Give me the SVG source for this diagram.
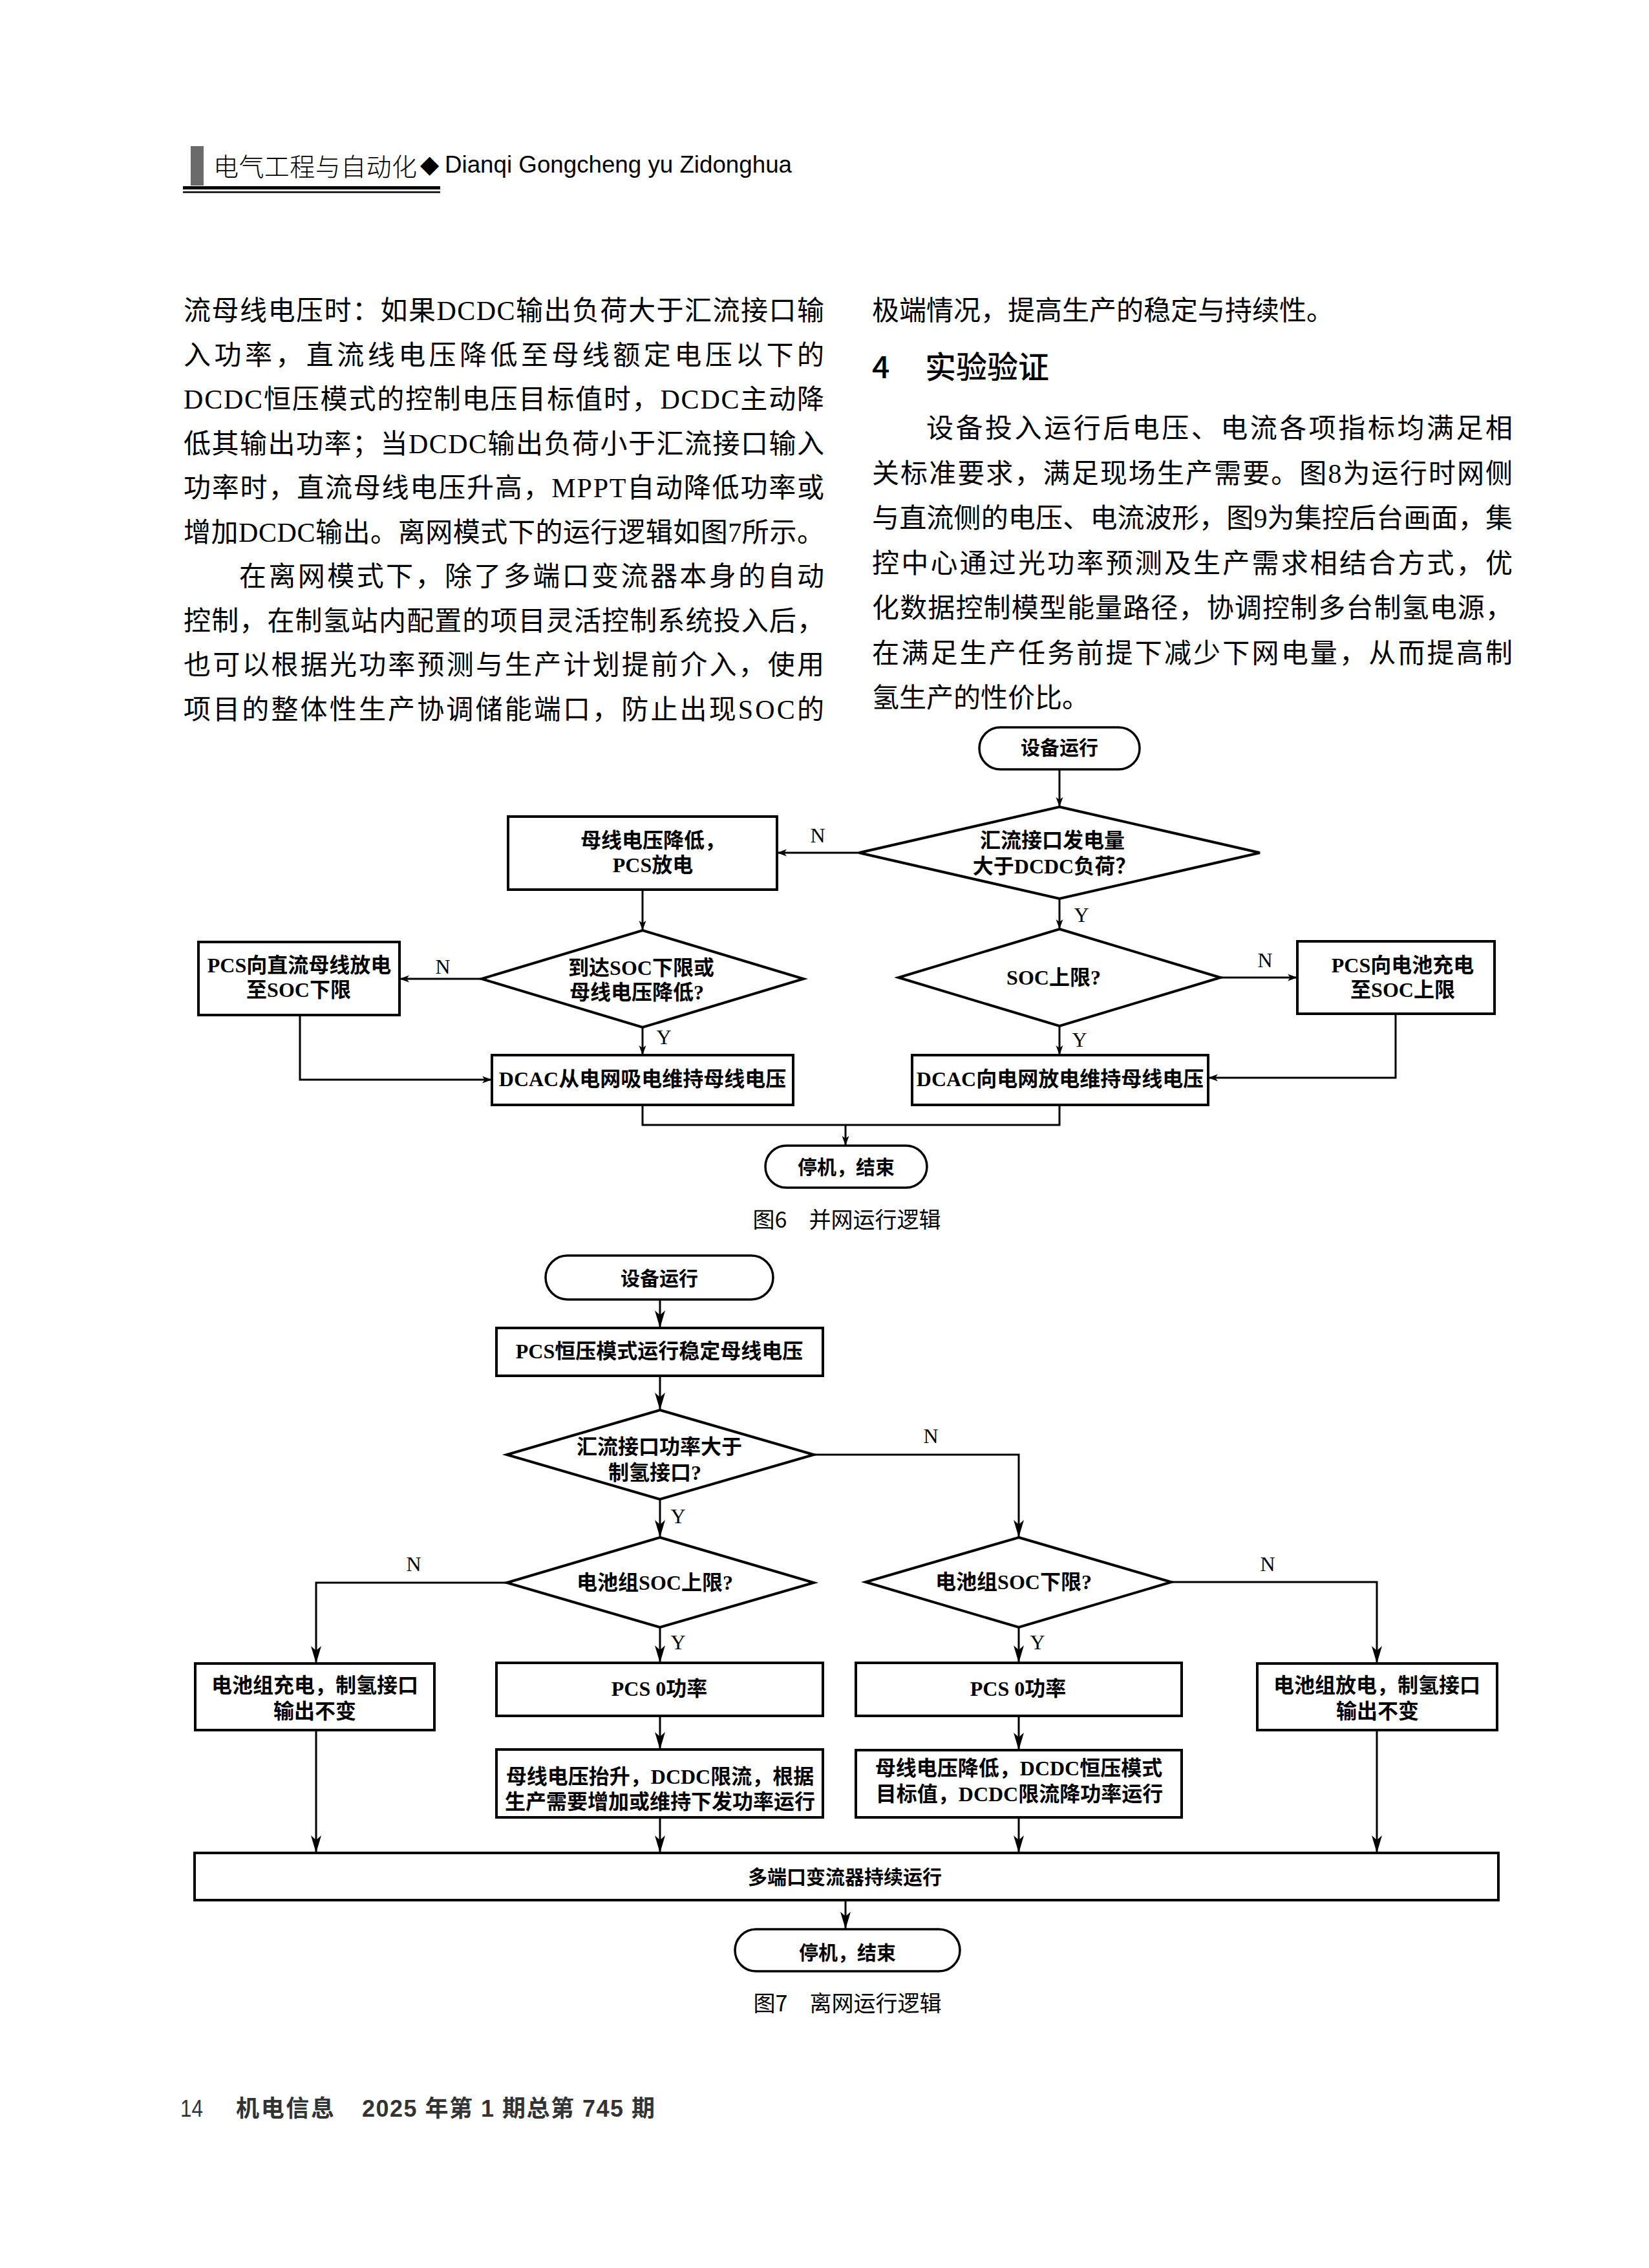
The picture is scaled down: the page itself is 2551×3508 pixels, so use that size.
<svg xmlns="http://www.w3.org/2000/svg" width="2551" height="3508" viewBox="0 0 2551 3508">
<defs>
<style>
.body{font-family:"Liberation Serif","Noto Sans CJK SC",serif;font-size:42px;fill:#000}
.hd{font-family:"Noto Sans CJK SC","Liberation Sans",sans-serif;font-size:48px;font-weight:500;fill:#000}
.ft{font-family:"Liberation Serif","Noto Sans CJK SC",serif;font-size:32px;font-weight:bold;fill:#000;text-anchor:middle}
.fs{font-family:"Noto Sans CJK SC","Liberation Sans",sans-serif;font-size:30px;font-weight:bold;fill:#000;text-anchor:middle}
.lb{font-family:"Liberation Serif",serif;font-size:32px;fill:#000;text-anchor:middle}
.cap{font-family:"Noto Sans CJK SC","Liberation Sans",sans-serif;font-size:34px;fill:#000;text-anchor:middle}
.shape{fill:#fff;stroke:#000;stroke-width:4}
.term{fill:#fff;stroke:#000;stroke-width:3.5}
.c6{fill:none;stroke:#000;stroke-width:3;marker-end:url(#a6)}
.c7{fill:none;stroke:#000;stroke-width:3;marker-end:url(#a7)}
.ln{fill:none;stroke:#000;stroke-width:3}
.foot{font-family:"Liberation Sans","Noto Sans CJK SC",sans-serif;font-size:36px;fill:#333}
</style>
<marker id="a6" markerUnits="userSpaceOnUse" markerWidth="16" markerHeight="12" refX="15" refY="6" orient="auto"><path d="M0,0.5 L15,6 L0,11.5 L4,6 z" fill="#000"/></marker>
<marker id="a7" markerUnits="userSpaceOnUse" markerWidth="28" markerHeight="18" refX="27" refY="9" orient="auto"><path d="M0,1 L27,9 L0,17 L7,9 z" fill="#000"/></marker>
</defs>
<rect width="2551" height="3508" fill="#fff"/>

<g id="header">
<rect x="295" y="226" width="20" height="61" fill="#6b6b6b"/>
<text x="330" y="272" font-family="Noto Sans CJK SC, sans-serif" font-size="39" font-weight="300" textLength="315">电气工程与自动化</text>
<text x="650" y="267" font-family="DejaVu Sans, sans-serif" font-size="38">◆</text>
<text x="688" y="267" font-family="Liberation Sans, sans-serif" font-size="36" textLength="537" lengthAdjust="spacingAndGlyphs">Dianqi Gongcheng yu Zidonghua</text>
<rect x="283" y="288" width="398" height="5" fill="#000"/>
<rect x="283" y="296" width="398" height="2.5" fill="#000"/>
</g>

<g id="body-left" class="body">
<text x="284" y="495" textLength="991" lengthAdjust="spacing">流母线电压时：如果DCDC输出负荷大于汇流接口输</text>
<text x="284" y="563.5" textLength="991" lengthAdjust="spacing">入功率，直流线电压降低至母线额定电压以下的</text>
<text x="284" y="632" textLength="991" lengthAdjust="spacing">DCDC恒压模式的控制电压目标值时，DCDC主动降</text>
<text x="284" y="700.5" textLength="991" lengthAdjust="spacing">低其输出功率；当DCDC输出负荷小于汇流接口输入</text>
<text x="284" y="769" textLength="991" lengthAdjust="spacing">功率时，直流母线电压升高，MPPT自动降低功率或</text>
<text x="284" y="837.5" textLength="991" lengthAdjust="spacing">增加DCDC输出。离网模式下的运行逻辑如图7所示。</text>
<text x="370" y="906" textLength="905" lengthAdjust="spacing">在离网模式下，除了多端口变流器本身的自动</text>
<text x="284" y="974.5" textLength="991" lengthAdjust="spacing">控制，在制氢站内配置的项目灵活控制系统投入后，</text>
<text x="284" y="1043" textLength="991" lengthAdjust="spacing">也可以根据光功率预测与生产计划提前介入，使用</text>
<text x="284" y="1111.5" textLength="991" lengthAdjust="spacing">项目的整体性生产协调储能端口，防止出现SOC的</text>
</g>

<g id="body-right">
<text class="body" x="1349" y="495">极端情况，提高生产的稳定与持续性。</text>
<text class="hd" x="1349" y="585">4</text>
<text class="hd" x="1431" y="585">实验验证</text>
<text class="body" x="1433" y="677" textLength="907" lengthAdjust="spacing">设备投入运行后电压、电流各项指标均满足相</text>
<text class="body" x="1349" y="746.5" textLength="991" lengthAdjust="spacing">关标准要求，满足现场生产需要。图8为运行时网侧</text>
<text class="body" x="1349" y="816" textLength="991" lengthAdjust="spacing">与直流侧的电压、电流波形，图9为集控后台画面，集</text>
<text class="body" x="1349" y="885.5" textLength="991" lengthAdjust="spacing">控中心通过光功率预测及生产需求相结合方式，优</text>
<text class="body" x="1349" y="955" textLength="991" lengthAdjust="spacing">化数据控制模型能量路径，协调控制多台制氢电源，</text>
<text class="body" x="1349" y="1024.5" textLength="991" lengthAdjust="spacing">在满足生产任务前提下减少下网电量，从而提高制</text>
<text class="body" x="1349" y="1094">氢生产的性价比。</text>
</g>

<g id="fig6-connectors">
<path class="c6" d="M1639,1190 V1248"/>
<path class="c6" d="M1329,1319 H1202"/>
<path class="c6" d="M994,1376 V1439"/>
<path class="c6" d="M745,1514 H618"/>
<path class="c6" d="M994,1589 V1632"/>
<path class="c6" d="M464,1570 V1670 H761"/>
<path class="c6" d="M1639,1390 V1437"/>
<path class="c6" d="M1888,1512 H2007"/>
<path class="c6" d="M1639,1587 V1632"/>
<path class="c6" d="M2159,1568 V1667 H1869"/>
<path class="ln" d="M994,1709 V1740 H1639 V1709"/>
<path class="c6" d="M1308,1740 V1772"/>
<text class="lb" x="1265" y="1303">N</text>
<text class="lb" x="685" y="1506">N</text>
<text class="lb" x="1027" y="1615">Y</text>
<text class="lb" x="1673" y="1426">Y</text>
<text class="lb" x="1957" y="1496">N</text>
<text class="lb" x="1670" y="1619">Y</text>
</g>

<g id="fig6-start"><rect class="term" x="1515" y="1125" width="248" height="65" rx="32.5"/><text class="fs" x="1639" y="1167">设备运行</text></g>
<g id="fig6-d1"><polygon class="shape" points="1639,1248 1949,1319 1639,1390 1329,1319"/><text class="ft" x="1628" y="1311">汇流接口发电量</text><text class="ft" x="1631" y="1351">大于DCDC负荷？</text></g>
<g id="fig6-a"><rect class="shape" x="786" y="1263" width="416" height="113"/><text class="ft" x="1010" y="1311">母线电压降低，</text><text class="ft" x="1010" y="1349">PCS放电</text></g>
<g id="fig6-d2"><polygon class="shape" points="994,1439 1243,1514 994,1589 745,1514"/><text class="ft" x="992" y="1508">到达SOC下限或</text><text class="ft" x="985" y="1546">母线电压降低?</text></g>
<g id="fig6-b"><rect class="shape" x="307" y="1457" width="311" height="113"/><text class="ft" x="463" y="1504">PCS向直流母线放电</text><text class="ft" x="462" y="1542">至SOC下限</text></g>
<g id="fig6-c"><rect class="shape" x="761" y="1632" width="466" height="77"/><text class="ft" x="994" y="1680">DCAC从电网吸电维持母线电压</text></g>
<g id="fig6-d3"><polygon class="shape" points="1639,1437 1888,1512 1639,1587 1390,1512"/><text class="ft" x="1630" y="1523">SOC上限?</text></g>
<g id="fig6-d"><rect class="shape" x="2007" y="1456" width="305" height="112"/><text class="ft" x="2170" y="1504">PCS向电池充电</text><text class="ft" x="2170" y="1542">至SOC上限</text></g>
<g id="fig6-e"><rect class="shape" x="1411" y="1632" width="458" height="77"/><text class="ft" x="1640" y="1680">DCAC向电网放电维持母线电压</text></g>
<g id="fig6-end"><rect class="term" x="1184" y="1772" width="250" height="65" rx="32.5"/><text class="fs" x="1309" y="1816">停机，结束</text></g>
<text id="fig6-caption" class="cap" x="1310" y="1899">图6　并网运行逻辑</text>

<g id="fig7-connectors">
<path class="c7" d="M1021,2010 V2054"/>
<path class="c7" d="M1021,2128 V2181"/>
<path class="c7" d="M1259,2250 H1576 V2378"/>
<path class="c7" d="M1021,2319 V2378"/>
<path class="c7" d="M784,2448 H489 V2573"/>
<path class="c7" d="M1021,2517 V2572"/>
<path class="c7" d="M1021,2654 V2706"/>
<path class="c7" d="M1021,2811 V2866"/>
<path class="c7" d="M489,2676 V2866"/>
<path class="c7" d="M1812,2447 H2130 V2573"/>
<path class="c7" d="M1576,2517 V2572"/>
<path class="c7" d="M1576,2654 V2707"/>
<path class="c7" d="M1576,2811 V2866"/>
<path class="c7" d="M2130,2676 V2866"/>
<path class="c7" d="M1308,2939 V2984"/>
<text class="lb" x="1440" y="2232" font-size="30">N</text>
<text class="lb" x="1049" y="2356" font-size="30">Y</text>
<text class="lb" x="640" y="2430" font-size="30">N</text>
<text class="lb" x="1049" y="2551" font-size="30">Y</text>
<text class="lb" x="1961" y="2430" font-size="30">N</text>
<text class="lb" x="1605" y="2551" font-size="30">Y</text>
</g>

<g id="fig7-start"><rect class="term" x="844" y="1942" width="352" height="68" rx="34"/><text class="fs" x="1020" y="1988">设备运行</text></g>
<g id="fig7-f"><rect class="shape" x="768" y="2054" width="505" height="74"/><text class="ft" x="1020" y="2101">PCS恒压模式运行稳定母线电压</text></g>
<g id="fig7-d4"><polygon class="shape" points="1021,2181 1259,2250 1021,2319 784,2250"/><text class="ft" x="1020" y="2249">汇流接口功率大于</text><text class="ft" x="1013" y="2289">制氢接口?</text></g>
<g id="fig7-d5"><polygon class="shape" points="1021,2378 1259,2448 1021,2517 784,2448"/><text class="ft" x="1013" y="2459">电池组SOC上限?</text></g>
<g id="fig7-d6"><polygon class="shape" points="1576,2378 1812,2447 1576,2517 1339,2447"/><text class="ft" x="1568" y="2458">电池组SOC下限?</text></g>
<g id="fig7-g"><rect class="shape" x="302" y="2573" width="370" height="103"/><text class="ft" x="487" y="2618">电池组充电，制氢接口</text><text class="ft" x="487" y="2658">输出不变</text></g>
<g id="fig7-h"><rect class="shape" x="768" y="2572" width="505" height="82"/><text class="ft" x="1020" y="2623">PCS 0功率</text></g>
<g id="fig7-i"><rect class="shape" x="768" y="2706" width="505" height="105"/><text class="ft" x="1021" y="2759">母线电压抬升，DCDC限流，根据</text><text class="ft" x="1021" y="2798">生产需要增加或维持下发功率运行</text></g>
<g id="fig7-l"><rect class="shape" x="1324" y="2572" width="504" height="82"/><text class="ft" x="1575" y="2623">PCS 0功率</text></g>
<g id="fig7-m"><rect class="shape" x="1324" y="2707" width="504" height="104"/><text class="ft" x="1576" y="2746">母线电压降低，DCDC恒压模式</text><text class="ft" x="1577" y="2786">目标值，DCDC限流降功率运行</text></g>
<g id="fig7-k"><rect class="shape" x="1945" y="2573" width="371" height="103"/><text class="ft" x="2130" y="2618">电池组放电，制氢接口</text><text class="ft" x="2131" y="2658">输出不变</text></g>
<g id="fig7-bar"><rect class="shape" x="301" y="2866" width="2017" height="73"/><text class="fs" x="1307" y="2914">多端口变流器持续运行</text></g>
<g id="fig7-end"><rect class="term" x="1137" y="2984" width="348" height="65" rx="32.5"/><text class="fs" x="1311" y="3031">停机，结束</text></g>
<text id="fig7-caption" class="cap" x="1311" y="3111">图7　离网运行逻辑</text>

<g id="footer">
<text class="foot" x="279" y="3274" textLength="35" lengthAdjust="spacingAndGlyphs">14</text>
<text class="foot" x="365" y="3274" font-weight="bold" textLength="152">机电信息</text>
<text class="foot" x="560" y="3274" font-weight="bold" textLength="453">2025 年第 1 期总第 745 期</text>
</g>
</svg>
